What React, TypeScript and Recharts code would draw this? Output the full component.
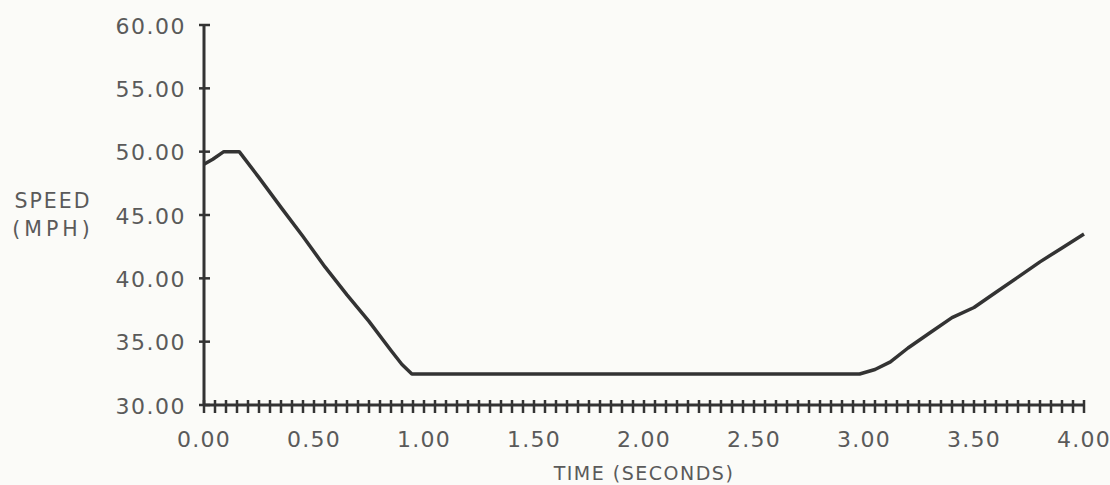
import { LineChart, Line, XAxis, YAxis } from "recharts";

const TIME = [0, 0.04, 0.09, 0.16, 0.25, 0.35, 0.45, 0.55, 0.65, 0.75, 0.85, 0.9, 0.945, 2.98, 3.05, 3.12, 3.2, 3.3, 3.4, 3.5, 3.6, 3.7, 3.8, 3.9, 4.0];
const SPEED = [49.0, 49.4, 50.0, 50.0, 47.95, 45.6, 43.3, 40.9, 38.7, 36.6, 34.3, 33.2, 32.45, 32.45, 32.8, 33.4, 34.5, 35.7, 36.9, 37.7, 38.9, 40.1, 41.3, 42.4, 43.5];

const X_MAJOR = [0, 0.5, 1, 1.5, 2, 2.5, 3, 3.5, 4];
const X_MINOR_STEP = 0.05;
const Y_TICKS = [30, 35, 40, 45, 50, 55, 60];

const X_TICKS = Array.from({ length: Math.round(4 / X_MINOR_STEP) + 1 }, (_, i) =>
  Math.round(i * X_MINOR_STEP * 100) / 100
);

const data = TIME.map((t, i) => ({ t, speed: SPEED[i] }));

const INK = "#333";
const TEXT = "#5a5a5a";
const FONT = "'DejaVu Sans', sans-serif";

const isMajor = (v: number) => X_MAJOR.some((m) => Math.abs(m - v) < 1e-6);

function XTick(props: any) {
  const { x, y, payload } = props;
  const v = payload.value as number;
  return (
    <g>
      <line x1={x} x2={x} y1={y - 5} y2={y + 8} stroke={INK} strokeWidth={2.5} />
      {isMajor(v) && (
        <text
          x={x}
          y={y + 42}
          textAnchor="middle"
          fill={TEXT}
          fontFamily={FONT}
          fontSize={22}
          letterSpacing={1.2}
        >
          {v.toFixed(2)}
        </text>
      )}
    </g>
  );
}

function YTick(props: any) {
  const { x, y, payload } = props;
  return (
    <g>
      <line x1={x - 5} x2={x + 6} y1={y} y2={y} stroke={INK} strokeWidth={2.5} />
      <text
        x={x - 18}
        y={y + 8.5}
        textAnchor="end"
        fill={TEXT}
        fontFamily={FONT}
        fontSize={22}
        letterSpacing={1.5}
      >
        {(payload.value as number).toFixed(2)}
      </text>
    </g>
  );
}

function YTitle(props: any) {
  const { viewBox } = props;
  const cx = viewBox.x + viewBox.width - 151;
  const cy = viewBox.y + viewBox.height / 2;
  return (
    <g fill={TEXT} fontFamily={FONT} fontSize={20.5} textAnchor="middle">
      <text x={cx} y={cy - 7} letterSpacing={2}>SPEED</text>
      <text x={cx} y={cy + 21} letterSpacing={4}>(MPH)</text>
    </g>
  );
}

function XTitle(props: any) {
  const { viewBox } = props;
  const cx = viewBox.x + viewBox.width / 2;
  return (
    <text
      x={cx}
      y={viewBox.y + 75}
      textAnchor="middle"
      fill={TEXT}
      fontFamily={FONT}
      fontSize={19}
      letterSpacing={1.5}
    >
      TIME (SECONDS)
    </text>
  );
}

export default function App() {
  return (
    <div style={{ position: "absolute", left: 0, top: 0, width: 1110, height: 485, background: "#fbfbf8" }}>
      <LineChart width={1110} height={485} data={data} margin={{ top: 25, right: 26, bottom: 0, left: 104 }}>
        <XAxis
          dataKey="t"
          type="number"
          domain={[0, 4]}
          ticks={X_TICKS}
          interval={0}
          tickSize={0}
          tickMargin={0}
          tickLine={false}
          tick={<XTick />}
          height={80}
          axisLine={{ stroke: INK, strokeWidth: 3 }}
          label={{ content: <XTitle /> }}
        />
        <YAxis
          type="number"
          domain={[30, 60]}
          ticks={Y_TICKS}
          interval={0}
          tickSize={0}
          tickMargin={0}
          tickLine={false}
          tick={<YTick />}
          width={100}
          axisLine={{ stroke: INK, strokeWidth: 3 }}
          label={{ content: <YTitle /> }}
        />
        <Line
          dataKey="speed"
          type="linear"
          stroke={INK}
          strokeWidth={3.5}
          dot={false}
          isAnimationActive={false}
          strokeLinejoin="round"
        />
      </LineChart>
    </div>
  );
}
